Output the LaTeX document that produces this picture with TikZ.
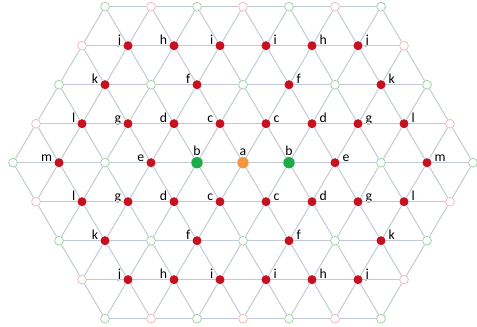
\documentclass[tikz,border=0pt]{standalone}
\usepackage{fontspec}
\setmainfont{Carlito}
\definecolor{edgeblue}{RGB}{194,202,216}
\definecolor{dotred}{RGB}{198,18,32}
\definecolor{ringgreen}{RGB}{160,212,165}
\definecolor{ringpink}{RGB}{244,186,186}
\definecolor{bgreen}{RGB}{28,172,72}
\definecolor{aorange}{RGB}{242,150,66}
\tikzset{
  edge/.style={draw=edgeblue, line width=0.75pt},
  hg/.style={circle, draw=ringgreen, fill=white, line width=0.6pt, inner sep=0pt, minimum size=6.6pt},
  hp/.style={circle, draw=ringpink, fill=white, line width=0.6pt, inner sep=0pt, minimum size=6.6pt},
  rd/.style={circle, fill=dotred, inner sep=0pt, minimum size=6.8pt},
  gb/.style={circle, fill=bgreen, inner sep=0pt, minimum size=8.6pt},
  oa/.style={circle, fill=aorange, inner sep=0pt, minimum size=8.6pt},
  lab-L/.style={anchor=base east, inner sep=0pt, xshift=-4.9pt, yshift=1.1pt},
  lab-R/.style={anchor=base west, inner sep=0pt, xshift=5.6pt, yshift=1.1pt},
  lab-C/.style={anchor=base, inner sep=0pt, yshift=5.4pt}
}
\begin{document}
\begin{tikzpicture}[x=34.5pt, y=29.25pt, font=\fontsize{10.3}{12}\selectfont]
\useasboundingbox (-5.283,-4.213) rectangle (5.087,4.172);

% lattice points, row by row from the top: style/label/side
\foreach \r/\row in {
  0/{hg//,hp//,hg//,hp//,hg//,hp//,hg//},
  1/{hp//,rd/j/L,rd/h/L,rd/i/L,rd/i/R,rd/h/R,rd/j/R,hp//},
  2/{hg//,rd/k/L,hg//,rd/f/L,hg//,rd/f/R,hg//,rd/k/R,hg//},
  3/{hp//,rd/l/L,rd/g/L,rd/d/L,rd/c/L,rd/c/R,rd/d/R,rd/g/R,rd/l/R,hp//},
  4/{hg//,rd/m/L,hg//,rd/e/L,gb/b/C,oa/a/C,gb/b/C,rd/e/R,hg//,rd/m/R,hg//},
  5/{hp//,rd/l/L,rd/g/L,rd/d/L,rd/c/L,rd/c/R,rd/d/R,rd/g/R,rd/l/R,hp//},
  6/{hg//,rd/k/L,hg//,rd/f/L,hg//,rd/f/R,hg//,rd/k/R,hg//},
  7/{hp//,rd/j/L,rd/h/L,rd/i/L,rd/i/R,rd/h/R,rd/j/R,hp//},
  8/{hg//,hp//,hg//,hp//,hg//,hp//,hg//}}{
  \pgfmathtruncatemacro\d{abs(\r-4)}
  \foreach \t/\l/\s [count=\i from 0] in \row {
    \pgfmathsetmacro\x{\i-(10-\d)/2}
    \node[\t] (v\r-\i) at (\x,4-\r) {};
    \ifx\l\empty\else
      \node[lab-\s] at (v\r-\i) {\l};
    \fi
  }
}

% horizontal edges
\foreach \r in {0,...,8} {
  \pgfmathtruncatemacro\n{9-abs(\r-4)}
  \foreach \i in {0,...,\n} {
    \pgfmathtruncatemacro\j{\i+1}
    \draw[edge] (v\r-\i) -- (v\r-\j);
  }
}

% slanted edges, upper half
\foreach \r in {0,...,3} {
  \pgfmathtruncatemacro\n{6+\r}
  \pgfmathtruncatemacro\s{\r+1}
  \foreach \i in {0,...,\n} {
    \pgfmathtruncatemacro\j{\i+1}
    \draw[edge] (v\r-\i) -- (v\s-\i) (v\r-\i) -- (v\s-\j);
  }
}

% slanted edges, lower half
\foreach \r in {5,...,8} {
  \pgfmathtruncatemacro\n{14-\r}
  \pgfmathtruncatemacro\s{\r-1}
  \foreach \i in {0,...,\n} {
    \pgfmathtruncatemacro\j{\i+1}
    \draw[edge] (v\r-\i) -- (v\s-\i) (v\r-\i) -- (v\s-\j);
  }
}
\end{tikzpicture}
\end{document}
